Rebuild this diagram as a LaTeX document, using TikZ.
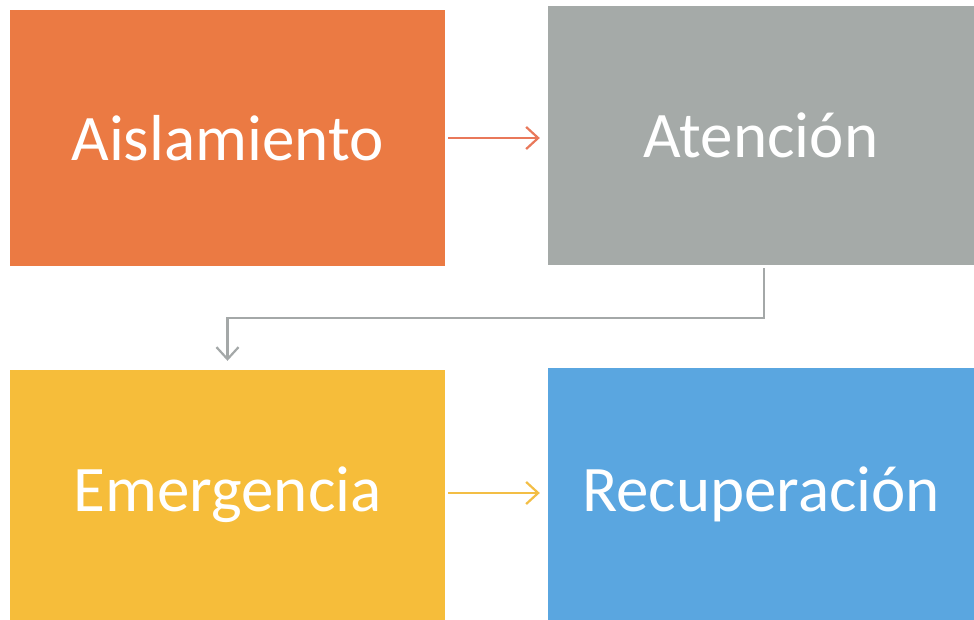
\documentclass[tikz,border=0pt]{standalone}
\usepackage{fontspec}
\setmainfont{Carlito}
\usetikzlibrary{arrows.meta}
\definecolor{cOrange}{HTML}{EB7A43}
\definecolor{cGray}{HTML}{A5AAA8}
\definecolor{cYellow}{HTML}{F6BD3A}
\definecolor{cBlue}{HTML}{5AA6E0}
\definecolor{aOrange}{HTML}{E9785A}
\definecolor{aGray}{HTML}{A4A8A8}
\definecolor{aYellow}{HTML}{F3BE45}
\begin{document}
\begin{tikzpicture}[x=1pt,y=-1pt,
  stage/.style={inner sep=0pt, text=white, font=\fontsize{65}{72}\selectfont},
  flow/.style={line width=2.2pt, -{Straight Barb[length=12pt,width=22pt,line width=2.2pt]}}]
\useasboundingbox (0,0) rectangle (974,620);
\fill[white] (0,0) rectangle (974,620);
\node[stage, fill=cOrange, minimum width=435pt, minimum height=256pt] (o) at (227.5,138) {Aislamiento};
\node[stage, fill=cGray, minimum width=426pt, minimum height=259pt] (g) at (761,135.5) {Atención};
\node[stage, fill=cYellow, minimum width=435pt, minimum height=250pt] (y) at (227.5,495) {Emergencia};
\node[stage, fill=cBlue, minimum width=426pt, minimum height=252pt] (b) at (761,494) {Recuperación};
\draw[flow, aOrange, shorten <=3pt, shorten >=8pt] (o.east) -- (o.east -| g.west);
\draw[flow, aGray, shorten <=3pt, shorten >=9pt] ([xshift=3pt]g.south) -- ++(0,53) -| (y.north);
\draw[flow, aYellow, shorten <=3pt, shorten >=8pt] ([yshift=2pt]y.east) -- ([yshift=2pt]y.east -| b.west);
\end{tikzpicture}
\end{document}
